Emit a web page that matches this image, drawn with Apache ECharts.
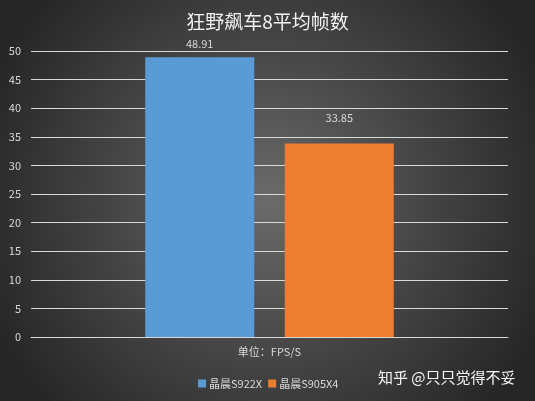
<!DOCTYPE html>
<html>
<head>
<meta charset="utf-8">
<script src="https://cdn.jsdelivr.net/npm/echarts@6/dist/echarts.min.js"></script>
<style>
  html, body { margin: 0; padding: 0; background: #2b2b2b; }
  #chart { width: 535px; height: 401px; }
</style>
</head>
<body>
<div id="chart"></div>
<script>
// 数据
var categories = ['单位：FPS/S'];
var seriesNames = ['晶晨S922X', '晶晨S905X4'];
var s922x = [48.91];
var s905x4 = [33.85];
var yTicks = { min: 0, max: 50, interval: 5 };

var labelColor = '#d9d9d9';
var font = '"Noto Sans CJK SC", "Noto Sans", sans-serif';

var myChart = echarts.init(document.getElementById('chart'));
myChart.setOption({
    backgroundColor: {
        type: 'radial', x: 0.5, y: 0.5, r: 0.75,
        colorStops: [
            { offset: 0, color: '#6b6b6b' },
            { offset: 0.45, color: '#4a4a4a' },
            { offset: 1, color: '#262626' }
        ]
    },
    textStyle: { fontFamily: font },
    animation: false,
    title: {
        text: '狂野飙车8平均帧数',
        left: 'center',
        top: 7,
        textStyle: { color: '#f2f2f2', fontSize: 19, fontWeight: 'normal', fontFamily: font }
    },
    legend: {
        data: seriesNames,
        left: 193,
        top: 373,
        itemWidth: 8,
        itemHeight: 8,
        itemGap: 6,
        icon: 'rect',
        textStyle: { color: labelColor, fontSize: 11, padding: [0, 0, 0, -2] }
    },
    grid: { left: 31, right: 27, top: 51, bottom: 64, containLabel: false },
    xAxis: [{
        type: 'category',
        data: categories,
        axisLine: { lineStyle: { color: '#d9d9d9' } },
        axisTick: { show: false },
        axisLabel: { color: labelColor, fontSize: 11, margin: 9 }
    }],
    yAxis: [{
        type: 'value',
        min: yTicks.min,
        max: yTicks.max,
        interval: yTicks.interval,
        axisLine: { show: false },
        axisTick: { show: false },
        axisLabel: { color: labelColor, fontSize: 11, margin: 10 },
        splitLine: { lineStyle: { color: '#d9d9d9', width: 1 } }
    }],
    series: [
        {
            name: seriesNames[0],
            type: 'bar',
            data: s922x,
            barWidth: 109,
            barGap: '28%',
            itemStyle: { color: '#5b9bd5' },
            label: { show: true, position: 'top', distance: 8, color: labelColor, fontSize: 11 }
        },
        {
            name: seriesNames[1],
            type: 'bar',
            data: s905x4,
            barWidth: 109,
            itemStyle: { color: '#ed7d31' },
            label: { show: true, position: 'top', distance: 20, color: labelColor, fontSize: 11 }
        }
    ],
    graphic: [{
        type: 'text',
        left: 378,
        top: 370,
        style: { text: '知乎 @只只觉得不妥', fill: '#f5f5f5', font: '15px ' + font }
    }]
});
</script>
</body>
</html>
